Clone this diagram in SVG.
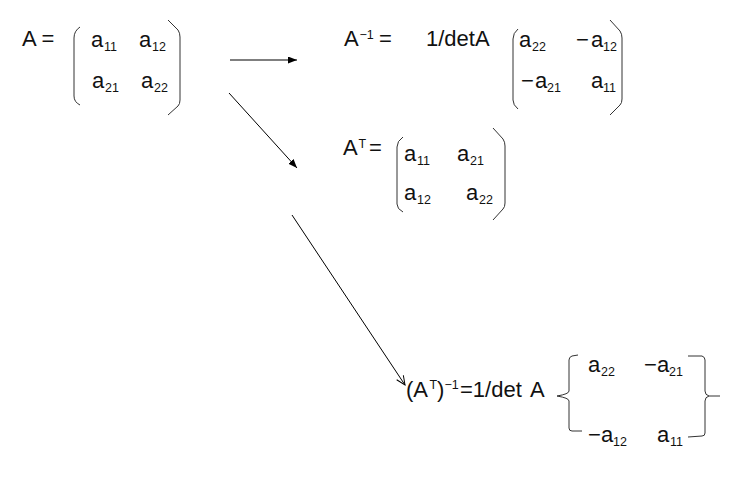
<svg xmlns="http://www.w3.org/2000/svg" width="739" height="483" viewBox="0 0 739 483">
<defs>
<style>
text{font-family:"Liberation Sans",Arial,sans-serif;font-size:22px;fill:#111}
text.s{font-size:12.5px}
.b{fill:none;stroke:#333;stroke-width:1}
.c{fill:none;stroke:#000;stroke-width:1}
</style>
<marker id="fa" markerWidth="10" markerHeight="8" refX="9" refY="3.5" orient="auto" markerUnits="userSpaceOnUse">
<path d="M0,0 L9,3.5 L0,7 z" fill="#000"/>
</marker>
<marker id="oa" markerWidth="12" markerHeight="10" refX="9.5" refY="4.5" orient="auto" markerUnits="userSpaceOnUse">
<path d="M0.5,0.5 L9.5,4.5 L0.5,8.5" fill="none" stroke="#000" stroke-width="1"/>
</marker>
</defs>
<rect width="739" height="483" fill="#fff"/>

<g id="nodeA">
<text x="22" y="46">A =</text>
<path class="b" d="M80,27 Q74,31 74,38 L74,96 Q74,102 80,105"/>
<path class="b" d="M168,20 L178,30 Q180,33 180,37 L180,100 Q180,104 178,106 L168,115"/>
<text x="91" y="47">a</text><text class="s" x="104" y="51">11</text>
<text x="139" y="47">a</text><text class="s" x="152" y="51">12</text>
<text x="92" y="88">a</text><text class="s" x="105" y="92">21</text>
<text x="141" y="88">a</text><text class="s" x="154" y="92">22</text>
</g>

<g id="nodeAinv">
<text x="344" y="46">A</text><text class="s" x="359.5" y="39">−1</text>
<text x="379" y="46">=</text>
<text x="426" y="46">1/detA</text>
<path class="b" d="M518,29 Q513,33 513,39 L513,100 Q513,105 518,109"/>
<path class="b" d="M610,20 L620,31 Q622,34 622,38 L622,99 Q622,103 620,105 L610,115"/>
<text x="519" y="47">a</text><text class="s" x="532" y="51">22</text>
<text x="576" y="47">−</text><text x="591" y="47">a</text><text class="s" x="603" y="51">12</text>
<text x="521" y="88">−</text><text x="535" y="88">a</text><text class="s" x="547" y="92">21</text>
<text x="591" y="88">a</text><text class="s" x="603" y="92">11</text>
</g>

<g id="nodeAT">
<text x="343" y="155">A</text><text class="s" x="358.5" y="148">T</text>
<text x="369" y="155">=</text>
<path class="b" d="M403,137 Q397,141 397,147 L397,204 Q397,209 403,212"/>
<path class="b" d="M493,128 L503,139 Q505,142 505,146 L505,203 Q505,207 503,209 L493,220"/>
<text x="404" y="161">a</text><text class="s" x="417" y="165">11</text>
<text x="457" y="161">a</text><text class="s" x="470" y="165">21</text>
<text x="404" y="200">a</text><text class="s" x="417" y="204">12</text>
<text x="466" y="200">a</text><text class="s" x="479" y="204">22</text>
</g>

<g id="nodeATinv">
<text x="406" y="397">(A</text><text class="s" x="429.5" y="389">T</text>
<text x="437" y="397">)</text><text class="s" x="444.5" y="389">−1</text>
<text x="460" y="397">=1/det</text>
<text x="530" y="397">A</text>
<path class="b" d="M578,355 L572,356 Q569,357 569,360 L569,391 Q569,394 557,396 Q569,398 569,401 L569,428 Q569,431 572,431 L582,431"/>
<path class="b" d="M688,356 L702,356 Q705,357 705,360 L705,391 Q705,395 709,396 L720,396 M709,396 Q705,397 705,401 L705,433 Q705,436 702,436 L688,437"/>
<text x="588" y="372">a</text><text class="s" x="601" y="376">22</text>
<text x="644" y="372">−</text><text x="657" y="372">a</text><text class="s" x="669" y="376">21</text>
<text x="588" y="442">−</text><text x="601" y="442">a</text><text class="s" x="613" y="446">12</text>
<text x="657" y="442">a</text><text class="s" x="670" y="446">11</text>
</g>

<g id="connectors">
<line x1="230" y1="60" x2="297" y2="60" stroke="#555" stroke-width="1.5" marker-end="url(#fa)"/>
<line class="c" x1="229" y1="93" x2="297" y2="168" marker-end="url(#fa)"/>
<line class="c" x1="292" y1="215" x2="405" y2="385" marker-end="url(#oa)"/>
</g>
</svg>
